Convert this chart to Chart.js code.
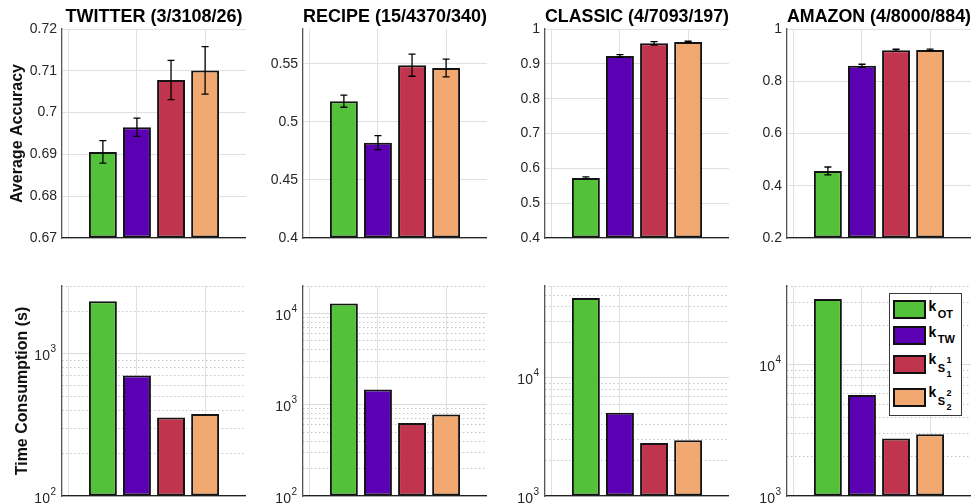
<!DOCTYPE html>
<html>
<head>
<meta charset="utf-8">
<script src="https://cdn.jsdelivr.net/npm/chart.js@4.4.0/dist/chart.umd.min.js"></script>
<style>
    html, body { margin: 0; padding: 0; background: #fff; overflow: hidden; }
    #wrap { position: relative; width: 971px; height: 504px; }
    #wrap canvas { position: absolute; }
    .lg-box { position: absolute; left: 889px; top: 293px; width: 73px; height: 123px; box-sizing: border-box; border: 1px solid #3a3a3a; background: #fff; }
    .lg-sw { position: absolute; left: 893px; width: 33px; height: 19px; box-sizing: border-box; border: 2px solid #111; }
    .lg-t { position: absolute; line-height: 1; font-weight: bold; color: #000; white-space: nowrap; font-family: 'Liberation Sans', Arial, Helvetica, sans-serif; }
</style>
</head>
<body>
<div id="wrap"></div>
<script>
(function () {
    // data
    var titles = ['TWITTER (3/3108/26)', 'RECIPE (15/4370/340)', 'CLASSIC (4/7093/197)', 'AMAZON (4/8000/884)'];
    var methods = ['k_OT', 'k_TW', 'k_S1', 'k_S2'];
    var barX = [1, 2, 3, 4];
    var colors = ['#53c13a', '#5b00b3', '#c1344e', '#f2a971'];

    var accTwitter = [0.6906, 0.6965, 0.7078, 0.7101];
    var errTwitter = [0.0027, 0.0022, 0.0047, 0.0057];
    var accRecipe = [0.5178, 0.4821, 0.5488, 0.5464];
    var errRecipe = [0.0052, 0.0060, 0.0095, 0.0077];
    var accClassic = [0.5726, 0.9227, 0.9588, 0.9628];
    var errClassic = [0.0030, 0.0040, 0.0050, 0.0020];
    var accAmazon = [0.4568, 0.8590, 0.9185, 0.9200];
    var errAmazon = [0.0150, 0.0060, 0.0040, 0.0030];

    var timeTwitter = [2340, 703, 357, 378];
    var timeRecipe = [12880, 1472, 630, 783];
    var timeClassic = [47450, 5070, 2805, 2970];
    var timeAmazon = [31800, 5890, 2740, 2965];

    var accRangeTwitter = [0.67, 0.72];
    var accRangeRecipe = [0.4, 0.58];
    var accRangeClassic = [0.4, 1];
    var accRangeAmazon = [0.2, 1];
    var accTicksTwitter = [0.67, 0.68, 0.69, 0.70, 0.71, 0.72];
    var accLabelsTwitter = ['0.67', '0.68', '0.69', '0.7', '0.71', '0.72'];
    var accTicksRecipe = [0.4, 0.45, 0.5, 0.55];
    var accLabelsRecipe = ['0.4', '0.45', '0.5', '0.55'];
    var accTicksClassic = [0.4, 0.5, 0.6, 0.7, 0.8, 0.9, 1];
    var accLabelsClassic = ['0.4', '0.5', '0.6', '0.7', '0.8', '0.9', '1'];
    var accTicksAmazon = [0.2, 0.4, 0.6, 0.8, 1];
    var accLabelsAmazon = ['0.2', '0.4', '0.6', '0.8', '1'];

    var timeRangeTwitter = [100, 3000];
    var timeRangeRecipe = [100, 20000];
    var timeRangeClassic = [1000, 60000];
    var timeRangeAmazon = [1000, 40000];
    var decadesTwitter = [100, 1000];
    var decadesRecipe = [100, 1000, 10000];
    var decadesClassic = [1000, 10000];
    var decadesAmazon = [1000, 10000];

    var xGridAt = [0, 2, 4];

    var FONT = "'Liberation Sans', Arial, Helvetica, sans-serif";
    Chart.defaults.font.family = FONT;
    Chart.defaults.color = '#262626';

    var wrap = document.getElementById('wrap');

    var errorBars = {
        id: 'errorBars',
        afterDatasetsDraw: function (chart, args, opts) {
            if (!opts || !opts.errors) return;
            var ctx = chart.ctx;
            var y = chart.scales.y;
            var meta = chart.getDatasetMeta(0);
            var vals = chart.data.datasets[0].data;
            ctx.save();
            ctx.strokeStyle = '#000';
            ctx.lineWidth = 1.3;
            meta.data.forEach(function (bar, i) {
                var v = vals[i].y, e = opts.errors[i];
                var top = y.getPixelForValue(v + e);
                var bot = y.getPixelForValue(v - e);
                ctx.beginPath();
                ctx.moveTo(bar.x, top); ctx.lineTo(bar.x, bot);
                ctx.moveTo(bar.x - 3.5, top); ctx.lineTo(bar.x + 3.5, top);
                ctx.moveTo(bar.x - 3.5, bot); ctx.lineTo(bar.x + 3.5, bot);
                ctx.stroke();
            });
            ctx.restore();
        }
    };

    // 10^n labels with a raised exponent
    var powerLabels = {
        id: 'powerLabels',
        afterDraw: function (chart, args, opts) {
            if (!opts || !opts.decades) return;
            var ctx = chart.ctx;
            var y = chart.scales.y;
            var xr = chart.chartArea.left - 6;
            ctx.save();
            ctx.fillStyle = '#262626';
            ctx.textAlign = 'right';
            ctx.textBaseline = 'alphabetic';
            opts.decades.forEach(function (d) {
                var py = y.getPixelForValue(d);
                var exp = String(Math.round(Math.log10(d)));
                ctx.font = '10px ' + FONT;
                var ew = ctx.measureText(exp).width;
                ctx.fillText(exp, xr, py - 1.5);
                ctx.font = '14px ' + FONT;
                ctx.fillText('10', xr - ew - 0.5, py + 6.5);
            });
            ctx.restore();
        }
    };

    function makeChart(p) {
        var canvas = document.createElement('canvas');
        canvas.width = p.w;
        canvas.height = p.h;
        canvas.style.left = p.left + 'px';
        canvas.style.top = p.top + 'px';
        wrap.appendChild(canvas);

        var isLog = p.kind === 'log';
        var yScale;
        if (isLog) {
            yScale = {
                type: 'logarithmic',
                min: p.range[0],
                max: p.range[1],
                afterBuildTicks: function (s) {
                    var t = [];
                    for (var d = p.range[0]; d <= p.range[1]; d *= 10) {
                        for (var k = 1; k <= 9; k++) {
                            if (k * d <= p.range[1] * 1.0001) t.push({ value: k * d });
                        }
                    }
                    s.ticks = t;
                },
                ticks: { display: false, autoSkip: false },
                grid: {
                    drawTicks: false,
                    color: function (c) {
                        if (c.tick && p.decades.indexOf(c.tick.value) < 0) return '#a8a8a8';
                        return '#dcdcdc';
                    }
                },
                border: {
                    color: '#555', width: 1.3,
                    dash: function (c) {
                        if (c.tick && p.decades.indexOf(c.tick.value) < 0) return [1, 3];
                        return [];
                    }
                }
            };
        } else {
            yScale = {
                type: 'linear',
                min: p.range[0],
                max: p.range[1],
                afterBuildTicks: function (s) {
                    s.ticks = p.ticks.map(function (v) { return { value: v }; });
                },
                ticks: {
                    autoSkip: false,
                    padding: 5,
                    font: { size: 14, lineHeight: 1 },
                    color: '#262626',
                    callback: function (v, i) { return p.labels[i]; }
                },
                grid: { drawTicks: false, color: '#e0e0e0' },
                border: { color: '#555', width: 1.3 }
            };
        }
        yScale.afterFit = function (s) { s.width = 62; };
        yScale.title = {
            display: !!p.yTitle,
            text: p.yTitle || '',
            color: '#111',
            font: { size: 16, weight: 'bold', lineHeight: 1 },
            padding: { top: p.yTitlePad || 0, bottom: 0 }
        };

        new Chart(canvas, {
            type: 'bar',
            data: {
                datasets: [{
                    data: barX.map(function (x, i) { return { x: x, y: p.values[i] }; }),
                    backgroundColor: colors,
                    borderColor: '#141414',
                    borderWidth: 2,
                    borderSkipped: false,
                    base: p.range[0],
                    barPercentage: 0.82,
                    categoryPercentage: 1
                }]
            },
            options: {
                responsive: false,
                animation: false,
                devicePixelRatio: 1,
                layout: { padding: p.padding },
                plugins: {
                    legend: { display: false },
                    tooltip: { enabled: false },
                    title: p.title ? {
                        display: true,
                        text: p.title,
                        color: '#000',
                        fullSize: false,
                        font: { size: 18, weight: 'bold', lineHeight: 1 },
                        padding: { top: 8, bottom: 3 }
                    } : { display: false },
                    errorBars: { errors: p.errors || null },
                    powerLabels: { decades: isLog ? p.decades : null }
                },
                scales: {
                    x: {
                        type: 'linear',
                        min: -0.2,
                        max: 5.2,
                        offset: false,
                        afterBuildTicks: function (s) {
                            s.ticks = xGridAt.map(function (v) { return { value: v }; });
                        },
                        afterFit: function (s) { s.height = 0; },
                        ticks: { display: false },
                        grid: { drawTicks: false, offset: false, color: '#e0e0e0' },
                        border: { color: '#222', width: 1.3 }
                    },
                    y: yScale
                }
            },
            plugins: [errorBars, powerLabels]
        });
    }

    var lefts = [0, 241, 483, 725];
    var accValues = [accTwitter, accRecipe, accClassic, accAmazon];
    var accErrors = [errTwitter, errRecipe, errClassic, errAmazon];
    var accRanges = [accRangeTwitter, accRangeRecipe, accRangeClassic, accRangeAmazon];
    var accTicks = [accTicksTwitter, accTicksRecipe, accTicksClassic, accTicksAmazon];
    var accLabels = [accLabelsTwitter, accLabelsRecipe, accLabelsClassic, accLabelsAmazon];
    var timeValues = [timeTwitter, timeRecipe, timeClassic, timeAmazon];
    var timeRanges = [timeRangeTwitter, timeRangeRecipe, timeRangeClassic, timeRangeAmazon];
    var timeDecades = [decadesTwitter, decadesRecipe, decadesClassic, decadesAmazon];

    for (var c = 0; c < 4; c++) {
        makeChart({
            kind: 'linear', left: lefts[c], top: 0, w: 246, h: 250,
            padding: { top: 0, bottom: 11, left: 0, right: 0 },
            title: titles[c],
            values: accValues[c], errors: accErrors[c],
            range: accRanges[c], ticks: accTicks[c], labels: accLabels[c],
            yTitle: c === 0 ? 'Average Accuracy' : null, yTitlePad: 10
        });
        makeChart({
            kind: 'log', left: lefts[c], top: 250, w: 246, h: 254,
            padding: { top: 36, bottom: 8, left: 0, right: 0 },
            values: timeValues[c],
            range: timeRanges[c], decades: timeDecades[c],
            yTitle: c === 0 ? 'Time Consumption (s)' : null, yTitlePad: 14.5
        });
    }

    // legend with subscripts, as html text
    function addText(text, left, baseline, size) {
        var s = document.createElement('span');
        s.className = 'lg-t';
        s.textContent = text;
        s.style.fontSize = size + 'px';
        s.style.left = left + 'px';
        s.style.top = (baseline - 0.8465 * size) + 'px';
        wrap.appendChild(s);
    }
    var box = document.createElement('div');
    box.className = 'lg-box';
    wrap.appendChild(box);
    var legendSub = ['OT', 'TW', 'S', 'S'];
    var legendSup = [null, null, '1', '2'];
    var legendSubSub = [null, null, '1', '2'];
    var rowTops = [300, 325.5, 355, 388];
    methods.forEach(function (m, i) {
        var sw = document.createElement('div');
        sw.className = 'lg-sw';
        sw.style.top = rowTops[i] + 'px';
        sw.style.background = colors[i];
        wrap.appendChild(sw);
        var t = rowTops[i];
        if (!legendSup[i]) {
            addText('k', 928.6, t + 11, 14);
            addText(legendSub[i], 937.8, t + 18, 11);
        } else {
            addText('k', 928.6, t + 9.3, 14);
            addText(legendSub[i], 937.8, t + 17.3, 11);
            addText(legendSup[i], 946.5, t + 8.3, 9);
            addText(legendSubSub[i], 946.5, t + 22.6, 9);
        }
    });
})();
</script>
</body>
</html>
